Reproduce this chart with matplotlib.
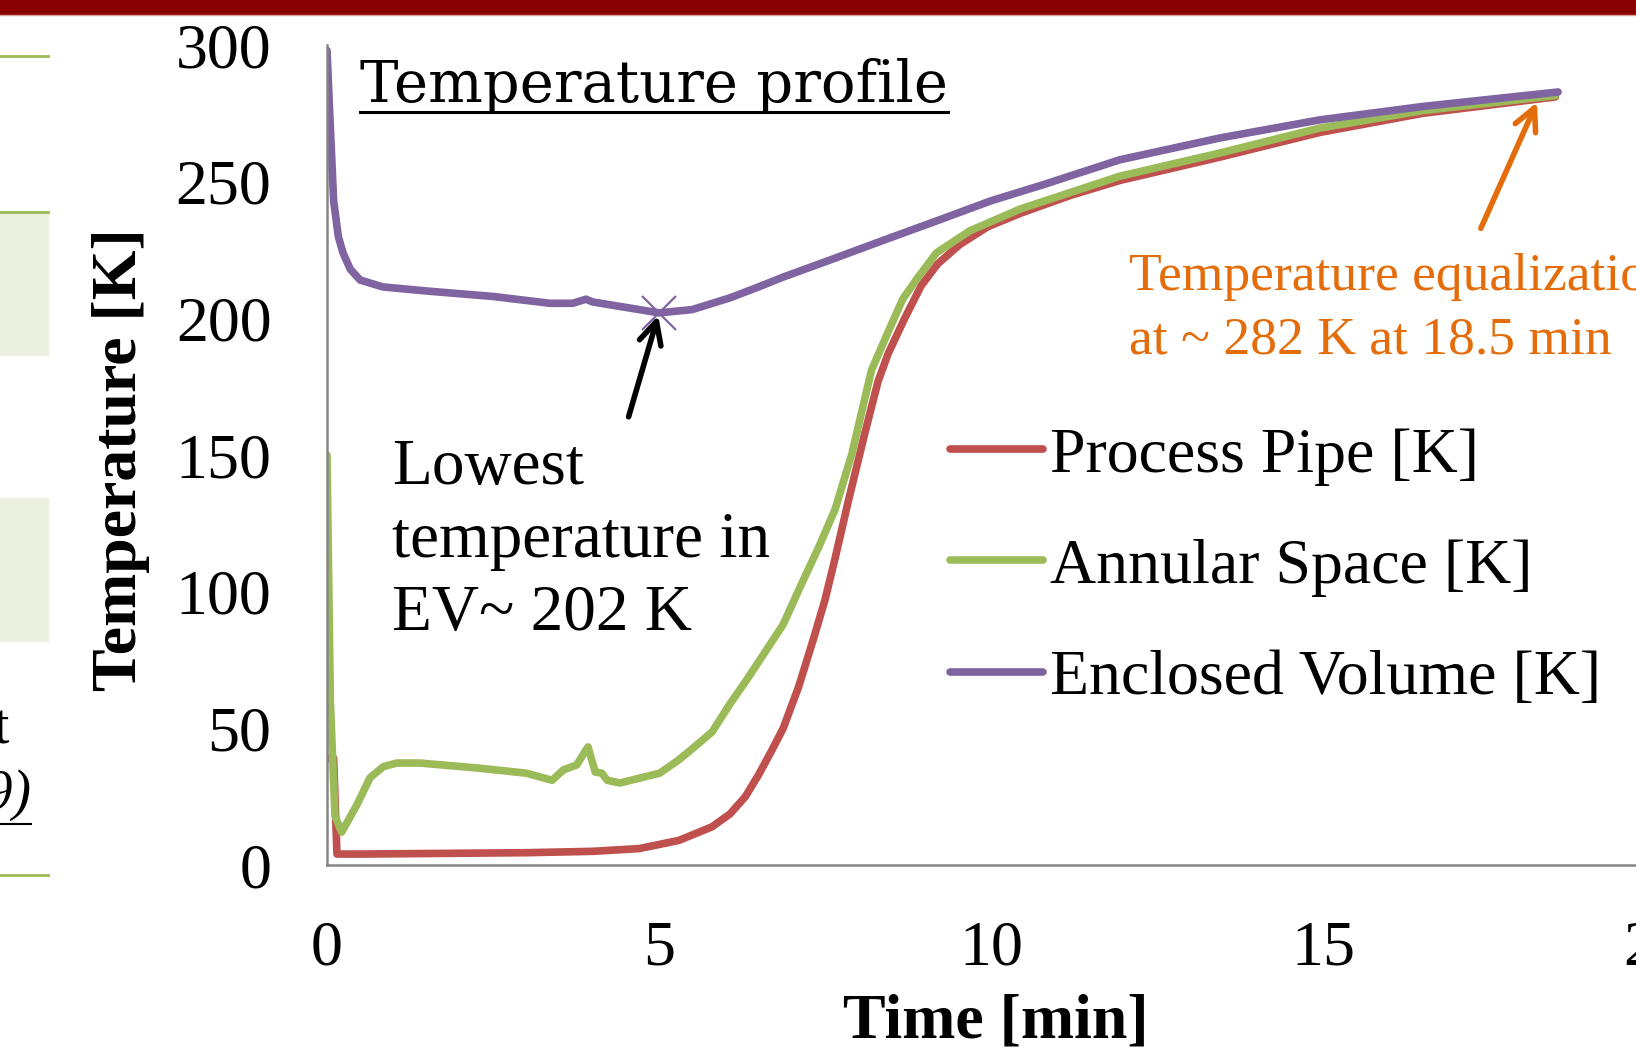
import matplotlib
matplotlib.use("Agg")
import matplotlib.pyplot as plt
from matplotlib.patches import Rectangle
from matplotlib.lines import Line2D

plt.rcParams["font.family"] = ["Liberation Serif", "DejaVu Serif"]

# Datos (tiempo en min, temperatura en K)
t_pipe = [0, 0.1, 0.15, 0.5, 1.5, 3.0, 4.0, 4.7, 5.0, 5.3, 5.6, 5.8, 6.07, 6.3, 6.5, 6.7,
          6.87, 7.1, 7.33, 7.5, 7.65, 7.85, 8.1, 8.3, 8.45, 8.7, 8.95, 9.2, 9.53, 9.95,
          10.45, 11.2, 11.95, 13.45, 14.95, 16.5, 18.5]
T_pipe = [39, 39, 4, 4, 4.2, 4.5, 5, 6, 7.5, 9, 12, 14, 18.7, 25, 33, 42,
          50, 65, 83, 97, 112, 133, 158, 177, 187, 200, 212, 220, 227, 233.5,
          238.5, 245, 250.5, 259, 268, 275, 281]

t_annular = [0, 0.05, 0.12, 0.22, 0.45, 0.65, 0.85, 1.05, 1.4, 2.26, 3.0, 3.39, 3.56, 3.76,
             3.93, 4.04, 4.14, 4.22, 4.41, 5.01, 5.3, 5.5, 5.8, 6.07, 6.3, 6.6, 6.87, 7.15,
             7.4, 7.65, 7.9, 8.2, 8.45, 8.67, 8.9, 9.18, 9.68, 10.44, 11.94, 13.45, 14.95,
             16.5, 18.5]
T_annular = [150, 60, 18, 12, 22, 32, 36, 37.3, 37.3, 35.5, 33.6, 31, 34.8, 36.6,
             43.2, 34, 33.6, 31, 30, 33.6, 38.5, 42.5, 48.7, 59, 67, 78, 88, 103,
             116, 130, 150, 181, 195, 207, 215, 224, 232, 240, 252, 260.5, 269.6,
             276, 281.5]

t_enclosed = [0, 0.05, 0.1, 0.17, 0.24, 0.35, 0.5, 0.84, 1.5, 2.5, 3.36, 3.7, 3.9, 4.0,
              4.5, 5.0, 5.5, 6.07, 6.5, 6.86, 7.65, 8.43, 9.22, 10.0, 10.8, 11.94, 13.45,
              14.95, 16.5, 18.54]
T_enclosed = [298, 270, 243, 230, 224, 218, 214, 211.5, 210, 208, 205.5, 205.5, 207, 206,
              204, 202, 203.2, 207.5, 211.5, 215, 222, 229, 236, 243, 249, 258, 266,
              272.6, 277.5, 282.8]

series_labels = ["Process Pipe [K]", "Annular Space [K]", "Enclosed Volume [K]"]
series_colors = ["#C0504D", "#9BBB59", "#8064A2"]

x_ticks = [0, 5, 10, 15, 20]
y_ticks = [0, 50, 100, 150, 200, 250, 300]

min_point = (5.0, 202)
equal_point = (18.24, 280)

W, H = 1636, 1064


def fx(px):
    return px / W


def fy(py):
    return 1 - py / H


fig = plt.figure(figsize=(W / 100, H / 100), dpi=100)

# Barra superior de la diapositiva
fig.patches.append(Rectangle((0, fy(14)), 1, 14 / H, transform=fig.transFigure,
                             color="#880000", zorder=0))
fig.add_artist(Line2D([0, 1], [fy(15), fy(15)], color="#E0A0A0", lw=1))

# Restos de la tabla a la izquierda
for y0, y1 in [(212, 355), (498, 641)]:
    fig.patches.append(Rectangle((0, fy(y1)), fx(48), (y1 - y0) / H,
                                 transform=fig.transFigure, color="#EBF1DE", zorder=0))
for yl in [56, 212, 875]:
    fig.add_artist(Line2D([0, fx(48)], [fy(yl), fy(yl)], color="#9BBB59", lw=2))
fig.text(fx(9), fy(730), "t", ha="right", va="center", fontsize=40)
fig.text(fx(31), fy(795), "(2009)", ha="right", va="center", fontsize=40, style="italic")
fig.add_artist(Line2D([0, fx(31)], [fy(824), fy(824)], color="black", lw=1.5))

ax = fig.add_axes([fx(327), fy(865), 1328 / W, 820 / H])

for tt, TT, c, lab in [(t_pipe, T_pipe, series_colors[0], series_labels[0]),
                       (t_annular, T_annular, series_colors[1], series_labels[1]),
                       (t_enclosed, T_enclosed, series_colors[2], series_labels[2])]:
    ax.plot(tt, TT, color=c, lw=5.5, label=lab,
            solid_capstyle="round", solid_joinstyle="round")
ax.plot([min_point[0]], [min_point[1]], marker="x", ms=24, mew=1.6,
        color=series_colors[2], ls="none")

ax.set_xlim(0, 20)
ax.set_ylim(0, 300)
ax.set_xticks(x_ticks)
ax.set_yticks(y_ticks)
ax.tick_params(length=0, labelsize=46)
ax.tick_params(axis="x", pad=40)
ax.tick_params(axis="y", pad=40)
for s in ["top", "right"]:
    ax.spines[s].set_visible(False)
for s in ["left", "bottom"]:
    ax.spines[s].set_color("#868686")
    ax.spines[s].set_linewidth(1.8)
ax.patch.set_alpha(0)

ax.set_ylabel("Temperature [K]", fontsize=46, fontweight="bold", ha="center", va="center")
ax.yaxis.set_label_coords((121 - 327) / 1328, (865 - 460) / 820)
ax.set_xlabel("Time [min]", fontsize=46, fontweight="bold", ha="center", va="center")
ax.xaxis.set_label_coords((996 - 327) / 1328, (865 - 1022) / 820)

# Titulo subrayado
title = ax.text(0.5, 279, "Temperature profile", family="DejaVu Serif", fontsize=41.5,
                ha="left", va="baseline")

ax.text(0.98, 156, "Lowest\ntemperature in\nEV~ 202 K", fontsize=47, ha="left", va="top",
        linespacing=1.3)
ax.annotate("", xy=min_point, xytext=(4.53, 163),
            arrowprops=dict(arrowstyle="->", lw=4, color="black", mutation_scale=40))

ax.text(12.08, 224, "Temperature equalization\nat ~ 282 K at 18.5 min", fontsize=38.5,
        color="#E46C0A", ha="left", va="top", linespacing=1.42)
ax.annotate("", xy=equal_point, xytext=(17.36, 232),
            arrowprops=dict(arrowstyle="->", lw=4, color="#E46C0A", mutation_scale=40))

ax.legend(loc="upper left", bbox_to_anchor=(fx(950), fy(427)), bbox_transform=fig.transFigure,
          frameon=False, fontsize=46, handlelength=1.45, handletextpad=0.12,
          labelspacing=0.82, borderpad=0, borderaxespad=0)

fig.canvas.draw()
bb = title.get_window_extent().transformed(fig.transFigure.inverted())
fig.add_artist(Line2D([bb.x0, bb.x1], [fy(112), fy(112)], color="black", lw=2.2))

fig.savefig("out.png", dpi=100)
